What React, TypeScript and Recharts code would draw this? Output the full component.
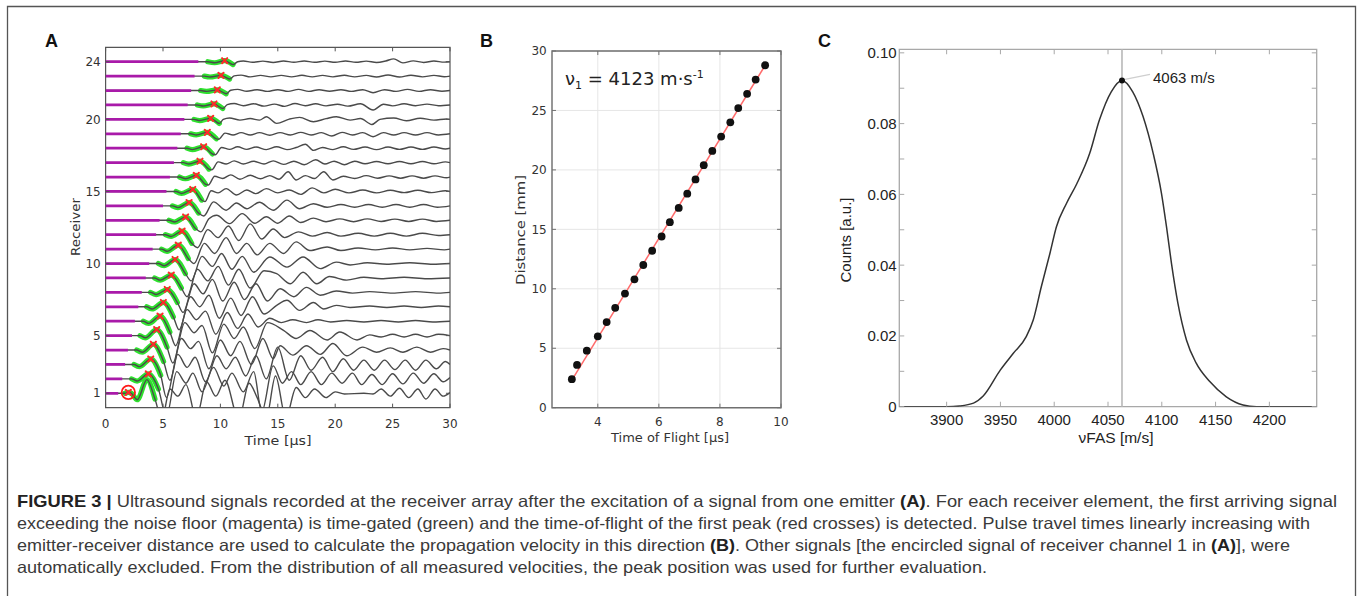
import React from 'react';
import {
  ComposedChart, Line, Scatter, XAxis, YAxis, CartesianGrid, ReferenceLine, ReferenceDot, ReferenceArea,
} from 'recharts';

/* ---------------- Panel A data (receiver waterfall) ---------------- */
const A_RECEIVERS = [1, 2, 3, 4, 5, 6, 7, 8, 9, 10, 11, 12, 13, 14, 15, 16, 17, 18, 19, 20, 21, 22, 23, 24];
const A_XDOMAIN = [0, 30];
const A_YDOMAIN = [0, 25];
const A_XTICKS = [0, 5, 10, 15, 20, 25, 30];
const A_YTICKS = [1, 5, 10, 15, 20, 24];
const A_MAGENTA_END = [1.1, 1.45, 1.7, 1.95, 2.3, 2.55, 2.85, 3.15, 3.5, 3.8, 4.1, 4.4, 4.7, 5.0, 5.3, 5.6, 5.95, 6.25, 6.55, 6.86, 7.15, 7.45, 7.75, 8.08];
const A_GATE_START = [1.7, 2.27, 2.48, 2.71, 3.0, 3.29, 3.58, 3.92, 4.27, 4.6, 4.88, 5.21, 5.52, 5.82, 6.14, 6.45, 6.77, 7.09, 7.41, 7.7, 7.99, 8.28, 8.6, 8.9];
const A_GATE_END = [4.3, 4.6, 4.8, 5.05, 5.35, 5.6, 5.9, 6.25, 6.6, 6.95, 7.2, 7.5, 7.8, 8.1, 8.37, 8.7, 9.0, 9.3, 9.65, 9.91, 10.2, 10.5, 10.8, 11.1];
const A_PEAK_T = [1.98, 3.72, 3.93, 4.16, 4.45, 4.74, 5.03, 5.37, 5.72, 6.05, 6.33, 6.66, 6.97, 7.27, 7.59, 7.9, 8.22, 8.54, 8.86, 9.15, 9.44, 9.73, 10.05, 10.37];

// [time µs, amplitude in receiver spacings]
const TRACE_R1 = [[0,0],[1.7,0],[1.98,0.06],[2.25,0],[2.75,-0.45],[3.6,0.95],[4.3,-0.4],[4.9,-1.8],[5.6,0.3],[6.3,-0.2],[7.0,0.6],[7.9,-1.7],[8.8,0.8],[9.6,-0.2],[10.4,0.9],[11.6,-1.8],[12.5,0.7],[13.2,-0.3],[14.0,-1.7],[14.8,1.2],[15.7,-1.7],[16.6,0.4],[17.4,-0.3],[18.2,0.3],[19.2,-0.3],[20.0,0.1],[20.8,-0.05],[22.5,0],[23.3,-0.05],[24.0,0.3],[24.8,-0.2],[25.6,0.35],[26.4,-0.3],[27.2,0.3],[27.9,-0.4],[28.7,0.3],[29.4,-0.2],[30,0.05]];
const TRACE_R2 = [[0,0],[2.27,0],[2.75,-0.15],[3.72,0.35],[4.6,-0.7],[5.3,-2.6],[6.2,0.5],[7.0,-0.3],[7.6,0.4],[8.4,-0.9],[9.4,0.8],[10.3,-0.5],[11.0,0.4],[12.0,-0.9],[12.9,0.5],[13.6,-2.3],[14.6,0.9],[15.4,-0.3],[16.2,0.5],[17.0,-0.4],[17.9,0.5],[18.8,-0.4],[19.7,0.4],[20.6,-0.3],[21.5,0.4],[22.3,-0.4],[23.2,0.3],[24.1,-0.4],[25.0,0.35],[25.9,-0.35],[26.8,0.4],[27.7,-0.3],[28.6,0.35],[29.4,-0.2],[30,0.1]];
const TRACE_R3 = [[0,0],[2.48,0],[2.95,-0.15],[3.93,0.38],[4.8,-0.75],[5.3,-2.3],[6.3,0.7],[7.1,-0.2],[7.8,0.5],[8.7,-1.2],[9.7,0.6],[10.5,-0.3],[11.3,0.5],[12.2,-0.8],[13.1,0.6],[14.0,-1.0],[15.0,1.2],[16.0,-1.1],[17.0,0.6],[17.9,-0.4],[18.9,0.5],[19.8,-0.5],[20.7,0.4],[21.6,-0.4],[22.5,0.3],[23.4,-0.4],[24.3,0.3],[25.2,-0.35],[26.1,0.3],[27.0,-0.4],[27.9,0.3],[28.8,-0.3],[29.6,0.2],[30,0]];
const TRACE_R4 = [[0,0],[2.71,0],[3.2,-0.15],[4.16,0.4],[5.05,-0.8],[5.6,-2.1],[6.6,0.8],[7.4,0.1],[8.1,0.6],[9.0,-1.3],[10.0,0.7],[10.9,-0.4],[11.7,0.6],[12.7,-1.0],[13.7,0.8],[14.6,-0.6],[15.2,0.3],[16.3,-0.35],[17.5,0.3],[18.7,-0.3],[19.8,0.45],[21.0,-0.4],[22.4,0.2],[23.6,-0.15],[24.8,0.15],[25.9,-0.15],[27.1,0.2],[28.3,-0.15],[29.4,0.1],[30,0]];
const TRACE_R5 = [[0,0],[3.0,0],[3.45,-0.15],[4.45,0.42],[5.35,-0.8],[5.85,-1.9],[6.9,0.9],[7.7,0.2],[8.4,0.7],[9.3,-1.2],[10.3,0.8],[11.2,-0.2],[12.0,0.6],[13.0,-0.9],[14.1,0.9],[15.5,0.37],[16.6,-0.2],[17.8,0.35],[19.3,-0.3],[20.4,0.25],[21.9,-0.3],[23.0,0.05],[24.0,-0.1],[25.0,0.1],[26.0,-0.1],[27.0,0.1],[28.0,-0.1],[29.0,0.1],[30,0]];
const TRACE_R6 = [[0,0],[3.29,0],[3.75,-0.15],[4.74,0.35],[5.6,-0.75],[6.1,-1.7],[7.1,0.8],[7.9,0.1],[8.7,0.7],[9.6,-0.9],[10.6,0.6],[11.5,-0.5],[12.4,0.5],[13.3,-0.4],[14.3,0.2],[15.3,-0.1],[16.3,0.1],[17.5,-0.1],[18.5,0.1],[19.6,-0.05],[21.0,0.05],[22.5,-0.05],[24.0,0.05],[25.5,-0.05],[27.0,0.05],[28.5,-0.05],[30,0]];
const TRACE_R7 = [[0,0],[3.58,0],[4.05,-0.15],[5.03,0.3],[5.9,-0.7],[6.4,-1.6],[7.4,0.7],[8.2,0.0],[9.0,0.8],[9.9,-0.8],[10.9,0.6],[11.8,-0.6],[12.8,0.7],[13.8,-0.5],[14.9,0.1],[15.8,0.45],[16.9,-0.25],[18.1,0.3],[19.0,-0.15],[20.1,0.1],[21.3,-0.05],[23.0,0.05],[24.5,-0.05],[26.0,0.05],[27.5,-0.05],[29.0,0.05],[30,0]];
const TRACE_R8 = [[0,0],[3.92,0],[4.4,-0.15],[5.37,0.2],[6.25,-0.7],[6.75,-1.4],[7.7,0.6],[8.5,-0.1],[9.3,0.9],[10.2,-0.6],[11.2,0.7],[12.1,-0.5],[13.1,0.6],[14.1,-0.6],[15.2,0.25],[16.4,-0.3],[17.5,0.35],[18.7,-0.2],[20.1,0.1],[21.5,-0.05],[23.0,0.05],[25.0,-0.05],[27.0,0.05],[29.0,-0.05],[30,0]];
const TRACE_R9 = [[0,0],[4.27,0],[4.75,-0.15],[5.72,0.2],[6.6,-0.7],[7.1,-1.3],[8.0,0.6],[8.9,-0.2],[9.8,0.8],[10.7,-0.5],[11.6,0.6],[12.6,-0.7],[13.8,0.5],[14.9,0.3],[16.1,-0.4],[17.2,0.4],[18.4,-0.4],[19.5,0.1],[21.0,-0.15],[22.5,0.05],[24.0,-0.05],[26.0,0.05],[28.0,-0.05],[30,0]];
const TRACE_R10 = [[0,0],[4.6,0],[5.1,-0.15],[6.05,0.28],[6.95,-0.7],[7.45,-1.2],[8.4,0.5],[9.3,-0.2],[10.1,0.7],[11.0,-0.4],[11.9,0.5],[12.9,-0.6],[14.3,0.45],[15.8,-0.25],[17.2,0.45],[18.7,-0.35],[20.1,0.1],[21.3,-0.1],[22.8,0.05],[24.5,-0.05],[26.5,0.05],[28.5,-0.05],[30,0]];
const TRACE_R11 = [[0,0],[4.88,0],[5.35,-0.15],[6.33,0.28],[7.2,-0.65],[7.7,-1.0],[8.6,0.4],[9.5,-0.3],[10.5,0.8],[11.4,-0.3],[12.3,0.4],[13.2,-0.4],[14.3,0.4],[15.5,-0.3],[16.6,0.5],[17.8,-0.1],[19.3,0.15],[20.5,-0.1],[22.0,0.08],[23.5,-0.05],[25.0,0.08],[26.5,-0.05],[28.0,0.05],[29.5,-0.05],[30,0]];
const TRACE_R12 = [[0,0],[5.21,0],[5.7,-0.12],[6.66,0.25],[7.5,-0.6],[8.0,-0.9],[8.9,0.35],[9.8,-0.2],[10.7,0.6],[11.6,-0.4],[12.6,0.75],[13.6,-0.3],[14.6,0.4],[15.6,-0.2],[16.8,0.2],[18.0,-0.1],[19.3,0.15],[20.5,-0.1],[22.0,0.1],[23.4,-0.1],[24.8,0.1],[26.2,-0.1],[27.6,0.1],[29.0,-0.05],[30,0]];
const TRACE_R13 = [[0,0],[5.52,0],[6.0,-0.12],[6.97,0.23],[7.8,-0.55],[8.3,-0.8],[9.0,0.1],[9.67,0.35],[10.8,-0.23],[11.9,0.46],[13.0,-0.2],[14.0,0.25],[15.0,-0.2],[16.0,0.3],[17.0,-0.15],[18.1,0.15],[19.2,-0.1],[20.4,0.1],[21.6,-0.1],[22.8,0.1],[24.0,-0.08],[25.2,0.08],[26.4,-0.08],[27.6,0.08],[28.8,-0.08],[30,0]];
const TRACE_R14 = [[0,0],[5.82,0],[6.3,-0.12],[7.27,0.23],[8.1,-0.5],[8.55,-0.7],[9.4,0.28],[10.5,-0.3],[11.4,0.2],[12.3,-0.2],[13.4,0.25],[14.6,-0.3],[15.8,0.4],[16.9,-0.2],[18.1,0.15],[19.3,-0.1],[20.5,0.1],[21.7,-0.1],[22.9,0.1],[24.1,-0.1],[25.3,0.1],[26.5,-0.1],[27.7,0.1],[28.9,-0.1],[30,0]];
const TRACE_R15 = [[0,0],[6.14,0],[6.62,-0.14],[7.59,0.14],[8.37,-0.6],[8.65,-0.7],[9.2,0.05],[9.8,-0.1],[10.5,0.2],[11.4,-0.25],[12.3,0.1],[13.1,-0.15],[14.0,0.2],[15.0,-0.1],[16.0,0.1],[17.0,-0.2],[18.0,0.25],[19.0,-0.1],[20.0,0.15],[21.2,-0.1],[22.4,0.1],[23.6,-0.1],[24.8,0.08],[26.0,-0.08],[27.2,0.08],[28.4,-0.08],[29.6,0.05],[30,0]];
const TRACE_R16 = [[0,0],[6.45,0],[6.95,-0.12],[7.9,0.12],[8.7,-0.5],[8.95,-0.55],[9.5,0.05],[10.2,-0.1],[10.9,0.15],[11.7,-0.15],[12.6,0.12],[13.5,-0.12],[14.3,0.1],[15.1,-0.15],[15.9,0.37],[16.6,-0.2],[17.4,0.1],[18.2,-0.1],[19.0,0.37],[19.8,-0.2],[20.7,0.05],[21.7,-0.1],[22.7,0.1],[23.7,-0.08],[24.7,0.08],[25.7,-0.08],[26.7,0.08],[27.7,-0.08],[28.7,0.08],[29.7,-0.05],[30,0]];
const TRACE_R17 = [[0,0],[6.77,0],[7.25,-0.1],[8.22,0.1],[9.0,-0.45],[9.25,-0.5],[9.8,0.05],[10.5,-0.1],[11.2,0.12],[12.0,-0.1],[12.9,0.1],[13.8,-0.1],[14.6,0.12],[15.5,-0.12],[16.4,0.1],[17.3,-0.15],[18.3,0.2],[19.1,-0.1],[19.9,0.1],[20.8,-0.15],[21.7,0.1],[22.6,-0.08],[23.6,0.08],[24.6,-0.08],[25.6,0.08],[26.6,-0.08],[27.6,0.08],[28.6,-0.08],[29.6,0.05],[30,0]];
const TRACE_R18 = [[0,0],[7.09,0],[7.55,-0.1],[8.54,0.1],[9.3,-0.4],[9.55,-0.45],[10.1,0.05],[10.8,-0.08],[11.5,0.1],[12.3,-0.08],[13.1,0.08],[14.0,-0.1],[14.9,0.1],[15.8,-0.1],[16.6,0.05],[17.4,0.28],[18.1,-0.15],[18.9,0.05],[19.8,-0.1],[20.7,0.1],[21.6,-0.08],[22.6,0.08],[23.6,-0.1],[24.6,0.08],[25.6,-0.08],[26.6,0.08],[27.6,-0.08],[28.6,0.08],[29.6,-0.05],[30,0]];
const TRACE_R19 = [[0,0],[7.41,0],[7.9,-0.08],[8.86,0.1],[9.65,-0.35],[9.85,-0.38],[10.4,0.05],[11.1,-0.08],[11.8,0.08],[12.6,-0.08],[13.4,0.08],[14.3,-0.1],[15.2,0.08],[16.1,-0.08],[17.0,0.1],[17.9,-0.08],[18.8,0.08],[19.7,-0.15],[20.6,0.1],[21.5,-0.08],[22.4,0.08],[23.3,-0.2],[24.2,0.08],[25.1,-0.08],[26.0,0.08],[27.0,-0.08],[28.0,0.08],[29.0,-0.08],[30,0]];
const TRACE_R20 = [[0,0],[7.7,0],[8.2,-0.08],[9.15,0.07],[9.91,-0.28],[10.25,0],[10.8,0.1],[11.7,-0.05],[12.6,0.06],[13.4,-0.05],[14.0,0.18],[14.9,-0.28],[16.0,0.02],[16.9,0.14],[18.1,-0.16],[19.2,0.05],[20.1,0.18],[21.3,-0.05],[22.2,0.06],[23.2,-0.35],[23.9,0],[25.1,0.1],[26.2,-0.1],[27.4,0.08],[28.6,-0.05],[29.7,0.03],[30,0]];
const TRACE_R21 = [[0,0],[7.99,0],[8.5,-0.07],[9.44,0.07],[10.2,-0.25],[10.6,0.02],[11.2,0.1],[12.0,-0.05],[12.9,0.08],[13.8,-0.08],[14.7,0.06],[15.6,-0.1],[16.5,0.1],[17.4,-0.05],[18.3,0.08],[19.2,-0.06],[20.2,0.05],[21.1,-0.08],[22.2,0.08],[23.3,-0.35],[24.2,0.05],[25.0,-0.06],[26.0,0.08],[27.0,-0.05],[28.0,0.06],[29.0,-0.05],[30,0]];
const TRACE_R22 = [[0,0],[8.28,0],[8.8,-0.06],[9.73,0.05],[10.5,-0.22],[10.9,0.02],[11.5,0.08],[12.3,-0.05],[13.2,0.06],[14.1,-0.06],[15.0,0.06],[15.9,-0.06],[16.8,0.08],[17.7,-0.06],[18.6,0.06],[19.5,-0.05],[20.5,0.06],[21.4,-0.06],[22.4,0.06],[23.3,-0.15],[24.3,0.06],[25.3,-0.06],[26.3,0.08],[27.3,-0.06],[28.3,0.06],[29.3,-0.05],[30,0]];
const TRACE_R23 = [[0,0],[8.6,0],[9.1,-0.06],[10.05,0.05],[10.8,-0.2],[11.2,0.02],[11.8,0.07],[12.6,-0.05],[13.5,0.05],[14.4,-0.05],[15.3,0.05],[16.2,-0.05],[17.1,0.06],[18.0,-0.05],[18.9,0.05],[19.8,-0.05],[20.8,0.06],[21.7,-0.05],[22.7,0.05],[23.6,-0.06],[24.6,0.08],[25.6,-0.06],[26.6,0.06],[27.6,-0.05],[28.6,0.05],[29.5,-0.04],[30,0]];
const TRACE_R24 = [[0,0],[8.9,0],[9.5,-0.07],[10.37,0.07],[11.1,-0.2],[11.5,0.0],[12.0,0.05],[12.8,-0.04],[13.7,0.04],[14.6,-0.05],[15.5,0.05],[16.4,-0.04],[17.3,0.05],[18.2,-0.04],[19.1,0.04],[20.0,-0.04],[20.9,0.05],[21.8,-0.04],[22.7,0.04],[23.6,-0.05],[24.4,0.05],[25.1,0.2],[25.9,-0.08],[26.8,0.06],[27.7,-0.05],[28.6,0.05],[29.5,-0.03],[30,0]];
const A_TRACES = [TRACE_R1, TRACE_R2, TRACE_R3, TRACE_R4, TRACE_R5, TRACE_R6, TRACE_R7, TRACE_R8, TRACE_R9, TRACE_R10, TRACE_R11, TRACE_R12, TRACE_R13, TRACE_R14, TRACE_R15, TRACE_R16, TRACE_R17, TRACE_R18, TRACE_R19, TRACE_R20, TRACE_R21, TRACE_R22, TRACE_R23, TRACE_R24];
const A_EXCLUDED_RECEIVER = 1;

/* ---------------- Panel B data ---------------- */
const B_TOF = [3.15, 3.32, 3.64, 4.0, 4.29, 4.57, 4.89, 5.2, 5.49, 5.78, 6.09, 6.36, 6.65, 6.93, 7.2, 7.47, 7.75, 8.04, 8.34, 8.6, 8.89, 9.17, 9.48];
const B_DIST = [2.4, 3.6, 4.8, 6.0, 7.2, 8.4, 9.6, 10.8, 12.0, 13.2, 14.4, 15.6, 16.8, 18.0, 19.2, 20.4, 21.6, 22.8, 24.0, 25.2, 26.4, 27.6, 28.8];
const B_FIT_T = [3.12, 9.52];
const B_FIT_D = [2.2, 28.95];
const B_XDOMAIN = [2.5, 10];
const B_YDOMAIN = [0, 30];
const B_XTICKS = [4, 6, 8, 10];
const B_YTICKS = [0, 5, 10, 15, 20, 25, 30];

/* ---------------- Panel C data ---------------- */
const C_V = [3856, 3900, 3912, 3925, 3934, 3950, 3962, 3974, 3980.5, 3988, 3996, 4002, 4011.5, 4021, 4033, 4042, 4053, 4063, 4073, 4082.6, 4092, 4099.7, 4104.4, 4109, 4115, 4123, 4132, 4144.6, 4160, 4175.5, 4188, 4244];
const C_COUNT = [0, 0, 0.0002, 0.001, 0.003, 0.0104, 0.0151, 0.0198, 0.0245, 0.0339, 0.0433, 0.0508, 0.0575, 0.063, 0.0716, 0.081, 0.089, 0.0922, 0.089, 0.082, 0.0716, 0.0603, 0.0508, 0.0405, 0.0292, 0.0188, 0.0123, 0.0071, 0.0028, 0.0005, 0, 0];
const C_PEAK_V = 4063;
const C_PEAK_COUNT = 0.0922;
const C_PEAK_LABEL = '4063 m/s';
const C_XDOMAIN = [3856, 4244];
const C_YDOMAIN = [0, 0.101];
const C_XTICKS = [3900, 3950, 4000, 4050, 4100, 4150, 4200];
const C_YTICKS = [0, 0.01, 0.02, 0.03, 0.04, 0.05, 0.06, 0.07, 0.08, 0.09, 0.1];
const C_YTICK_LABELS = ['0', '', '0.02', '', '0.04', '', '0.06', '', '0.08', '', '0.10'];

/* ---------------- Caption ---------------- */
const CAPTION_LINES: [string, boolean][][] = [
  [['FIGURE 3 |', true], [' Ultrasound signals recorded at the receiver array after the excitation of a signal from one emitter ', false], ['(A)', true], ['. For each receiver element, the first arriving signal', false]],
  [['exceeding the noise floor (magenta) is time-gated (green) and the time-of-flight of the first peak (red crosses) is detected. Pulse travel times linearly increasing with', false]],
  [['emitter-receiver distance are used to calculate the propagation velocity in this direction ', false], ['(B)', true], ['. Other signals [the encircled signal of receiver channel 1 in ', false], ['(A)', true], ['], were', false]],
  [['automatically excluded. From the distribution of all measured velocities, the peak position was used for further evaluation.', false]],
];
const CAPTION_WIDTHS = [1320, 1293, 1273, 970];
const CAPTION_BASELINES = [507, 529, 551, 573];

/* ---------------- styling ---------------- */
const FONT_SANS = "'Liberation Sans', Arial, Helvetica, sans-serif";
const FONT_DV = "'DejaVu Sans', Verdana, sans-serif";
const FONT_NARROW = "'Liberation Sans Narrow', 'Liberation Sans', Arial, sans-serif";

const mkTick = (o: { size: number; family: string; fill: string; anchor: string; dy: string; labels?: (v: number, i: number) => string }) =>
  (props: any) => {
    const { x, y, payload, index } = props;
    const label = o.labels ? o.labels(payload.value, index) : String(payload.value);
    if (!label) return <g />;
    return (
      <text x={x} y={y} dy={o.dy} textAnchor={o.anchor as any} fontSize={o.size} fontFamily={o.family} fill={o.fill}>
        {label}
      </text>
    );
  };

// box frame + inward ticks on all four sides, drawn through the chart scales
function frameMarks(key: string, xd: number[], yd: number[], xt: number[], yt: number[], lenY: number, lenX: number, color: string, width: number) {
  const out: any[] = [];
  xt.forEach((t, i) => {
    out.push(<ReferenceLine key={key + 'xb' + i} segment={[{ x: t, y: yd[0] }, { x: t, y: yd[0] + lenY }]} stroke={color} strokeWidth={1} ifOverflow="visible" />);
    out.push(<ReferenceLine key={key + 'xt' + i} segment={[{ x: t, y: yd[1] }, { x: t, y: yd[1] - lenY }]} stroke={color} strokeWidth={1} ifOverflow="visible" />);
  });
  yt.forEach((v, i) => {
    out.push(<ReferenceLine key={key + 'yl' + i} segment={[{ x: xd[0], y: v }, { x: xd[0] + lenX, y: v }]} stroke={color} strokeWidth={1} ifOverflow="visible" />);
    out.push(<ReferenceLine key={key + 'yr' + i} segment={[{ x: xd[1], y: v }, { x: xd[1] - lenX, y: v }]} stroke={color} strokeWidth={1} ifOverflow="visible" />);
  });
  out.push(<ReferenceArea key={key + 'frame'} x1={xd[0]} x2={xd[1]} y1={yd[0]} y2={yd[1]} fill="none" fillOpacity={0} stroke={color} strokeWidth={width} ifOverflow="visible" />);
  return out;
}

/* ---------------- derived tables ---------------- */
const aTraceData = A_TRACES.map((tr, k) => tr.map(([t, a]) => ({ t, y: A_RECEIVERS[k] + a })));
const aGateData = aTraceData.map((d, k) => d.filter((p) => p.t >= A_GATE_START[k] - 1e-9 && p.t <= A_GATE_END[k] + 1e-9));
const aMagentaData = A_RECEIVERS.map((r, k) => [{ t: 0, y: r }, { t: A_MAGENTA_END[k], y: r }]);
const aPeakData = A_PEAK_T.map((t, k) => {
  const pt = A_TRACES[k].find((p) => Math.abs(p[0] - t) < 1e-9);
  return { t, y: A_RECEIVERS[k] + (pt ? pt[1] : 0) };
});
const aExcluded = aPeakData[A_RECEIVERS.indexOf(A_EXCLUDED_RECEIVER)];

const bPoints = B_TOF.map((t, i) => ({ t, y: B_DIST[i] }));
const bFit = B_FIT_T.map((t, i) => ({ t, y: B_FIT_D[i] }));
const cCurve = C_V.map((v, i) => ({ v, c: C_COUNT[i] }));

const RedCross = (p: any) => {
  const { cx, cy } = p;
  const s = 2.6;
  return (
    <g stroke="#ff2a2a" strokeWidth={2} strokeLinecap="round">
      <line x1={cx - s} y1={cy - s} x2={cx + s} y2={cy + s} />
      <line x1={cx - s} y1={cy + s} x2={cx + s} y2={cy - s} />
    </g>
  );
};
const BlackDot = (p: any) => <circle cx={p.cx} cy={p.cy} r={3.9} fill="#111" />;

const PeakLabel = (props: any) => {
  const vb = props.viewBox || { x: 0, y: 0, width: 0, height: 0 };
  const cx = vb.x + (vb.width || 0) / 2;
  const cy = vb.y + (vb.height || 0) / 2;
  return (
    <g>
      <line x1={cx + 3} y1={cy - 1} x2={cx + 28} y2={cy - 6} stroke="#cfcfcf" strokeWidth={1.2} />
      <text x={cx + 31} y={cy + 2.5} fontSize={15} fontFamily={FONT_SANS} fill="#222">{C_PEAK_LABEL}</text>
    </g>
  );
};

/* ---------------- panels ---------------- */
const A_FRAME = '#555';
function PanelA() {
  return (
    <ComposedChart width={430} height={420} margin={{ top: 17.3, right: 20, bottom: 2.3, left: 0 }}>
      <XAxis type="number" dataKey="t" domain={A_XDOMAIN} ticks={A_XTICKS} interval={0} allowDataOverflow height={40}
        tickSize={0} tickMargin={11.3} axisLine={false} tickLine={false}
        tick={mkTick({ size: 12, family: FONT_DV, fill: '#333', anchor: 'middle', dy: '0.71em' })} />
      <YAxis type="number" domain={A_YDOMAIN} ticks={A_YTICKS} interval={0} allowDataOverflow width={65.6}
        tickSize={0} tickMargin={4.9} axisLine={false} tickLine={false}
        tick={mkTick({ size: 12, family: FONT_DV, fill: '#333', anchor: 'end', dy: '0.35em' })} />
      {aGateData.map((d, k) => (
        <Line key={'g' + k} data={d} dataKey="y" type="monotone" stroke="#2ee02e" strokeWidth={5.2} strokeLinecap="round"
          dot={false} activeDot={false} isAnimationActive={false} />
      ))}
      {aTraceData.map((d, k) => (
        <Line key={'t' + k} data={d} dataKey="y" type="monotone" stroke="#4a4a4a" strokeWidth={1.4}
          dot={false} activeDot={false} isAnimationActive={false} />
      ))}
      {aMagentaData.map((d, k) => (
        <Line key={'m' + k} data={d} dataKey="y" type="linear" stroke="#a91aa9" strokeWidth={2.8}
          dot={false} activeDot={false} isAnimationActive={false} />
      ))}
      <Scatter data={aPeakData} dataKey="y" shape={RedCross} isAnimationActive={false} />
      <ReferenceDot x={aExcluded.t} y={aExcluded.y} r={6.7} fill="none" stroke="#ff1a1a" strokeWidth={1.8} ifOverflow="visible" />
      {frameMarks('a', A_XDOMAIN, A_YDOMAIN, A_XTICKS, A_YTICKS, 0.28, 0.35, A_FRAME, 1.2)}
    </ComposedChart>
  );
}

const B_FRAME = '#707070';
function PanelB() {
  return (
    <ComposedChart width={320} height={420} margin={{ top: 21, right: 19, bottom: 2.3, left: 0 }}>
      <CartesianGrid stroke="#e6e6e6" />
      <XAxis type="number" dataKey="t" domain={B_XDOMAIN} ticks={B_XTICKS} interval={0} allowDataOverflow height={40}
        tickSize={0} tickMargin={9.6} axisLine={false} tickLine={false}
        tick={mkTick({ size: 12, family: FONT_DV, fill: '#333', anchor: 'middle', dy: '0.71em' })} />
      <YAxis type="number" domain={B_YDOMAIN} ticks={B_YTICKS} interval={0} allowDataOverflow width={72}
        tickSize={0} tickMargin={5.3} axisLine={false} tickLine={false}
        tick={mkTick({ size: 12, family: FONT_DV, fill: '#333', anchor: 'end', dy: '0.35em' })} />
      <Line data={bFit} dataKey="y" type="linear" stroke="#ff6b6b" strokeWidth={1.5} dot={false} activeDot={false} isAnimationActive={false} />
      <Scatter data={bPoints} dataKey="y" shape={BlackDot} isAnimationActive={false} />
      {frameMarks('b', B_XDOMAIN, B_YDOMAIN, B_XTICKS, B_YTICKS, 0.34, 0.13, B_FRAME, 1.4)}
    </ComposedChart>
  );
}

const C_FRAME = '#a8a8a8';
function PanelC() {
  return (
    <ComposedChart width={540} height={420} margin={{ top: 19.3, right: 23.3, bottom: 3.3, left: 0 }}>
      <XAxis type="number" dataKey="v" domain={C_XDOMAIN} ticks={C_XTICKS} interval={0} allowDataOverflow height={40}
        tickSize={0} tickMargin={7.2} axisLine={false} tickLine={false}
        tick={mkTick({ size: 15, family: FONT_SANS, fill: '#222', anchor: 'middle', dy: '0.72em' })} />
      <YAxis type="number" domain={C_YDOMAIN} ticks={C_YTICKS} interval={0} allowDataOverflow width={99.3}
        tickSize={0} tickMargin={2.6} axisLine={false} tickLine={false}
        tick={mkTick({ size: 15, family: FONT_SANS, fill: '#222', anchor: 'end', dy: '0.36em', labels: (_v, i) => C_YTICK_LABELS[i] })} />
      <ReferenceLine x={C_PEAK_V} stroke="#b8b8b8" strokeWidth={1.6} />
      <Line data={cCurve} dataKey="c" type="monotone" stroke="#333" strokeWidth={1.5} dot={false} activeDot={false} isAnimationActive={false} />
      {frameMarks('c', C_XDOMAIN, C_YDOMAIN, C_XTICKS, C_YTICKS, 0.0014, 4.6, C_FRAME, 1.3)}
      <ReferenceDot x={C_PEAK_V} y={C_PEAK_COUNT} r={3} fill="#111" stroke="none" label={PeakLabel} />
    </ComposedChart>
  );
}

export default function App() {
  return (
    <div style={{ position: 'absolute', left: 0, top: 0, width: 1358, height: 596, background: '#fff', overflow: 'hidden' }}>
      <div style={{ position: 'absolute', left: 40, top: 30 }}><PanelA /></div>
      <div style={{ position: 'absolute', left: 480, top: 30 }}><PanelB /></div>
      <div style={{ position: 'absolute', left: 800, top: 30 }}><PanelC /></div>
      <svg width={1358} height={596} style={{ position: 'absolute', left: 0, top: 0, pointerEvents: 'none' }}>
        <path d="M7.5 610 L7.5 6.5 L1355.5 6.5 L1355.5 610" fill="none" stroke="#555" strokeWidth={1.3} />
        <g fontFamily={FONT_SANS} fontWeight="bold" fontSize={18} fill="#111">
          <text x={45} y={47}>A</text>
          <text x={480} y={47}>B</text>
          <text x={818} y={47}>C</text>
        </g>
        <g fontFamily={FONT_DV} fontSize={13} fill="#333">
          <text x={278} y={444.5} textAnchor="middle" textLength={67} lengthAdjust="spacingAndGlyphs">Time [µs]</text>
          <text x={0} y={0} textAnchor="middle" textLength={58} lengthAdjust="spacingAndGlyphs" transform="translate(79.5 227) rotate(-90)">Receiver</text>
          <text x={670} y={442} textAnchor="middle" textLength={118} lengthAdjust="spacingAndGlyphs">Time of Flight [µs]</text>
          <text x={0} y={0} textAnchor="middle" textLength={110} lengthAdjust="spacingAndGlyphs" transform="translate(525 230) rotate(-90)">Distance [mm]</text>
        </g>
        <text x={565} y={85} fontFamily={FONT_DV} fontSize={18} fill="#222">
          <tspan>ν</tspan><tspan fontSize={11} dy={4}>1</tspan><tspan dy={-4}>{' = 4123 m·s'}</tspan><tspan fontSize={11} dy={-7}>-1</tspan>
        </text>
        <g fontFamily={FONT_SANS} fontSize={15} fill="#222">
          <text x={1116} y={443} textAnchor="middle" textLength={75} lengthAdjust="spacingAndGlyphs">νFAS [m/s]</text>
          <text x={0} y={0} textAnchor="middle" textLength={85} lengthAdjust="spacingAndGlyphs" transform="translate(851 240) rotate(-90)">Counts [a.u.]</text>
        </g>
        <g fontFamily={FONT_NARROW} fontSize={16.5} fill="#3a3a3a">
          {CAPTION_LINES.map((segs, li) => (
            <text key={li} x={17} y={CAPTION_BASELINES[li]} textLength={CAPTION_WIDTHS[li]} lengthAdjust="spacingAndGlyphs" style={{ whiteSpace: 'pre' }}>
              {segs.map(([s, b], si) => (
                <tspan key={si} fontWeight={b ? 'bold' : 'normal'} fill={b ? '#222' : '#3a3a3a'}>{s}</tspan>
              ))}
            </text>
          ))}
        </g>
      </svg>
    </div>
  );
}
